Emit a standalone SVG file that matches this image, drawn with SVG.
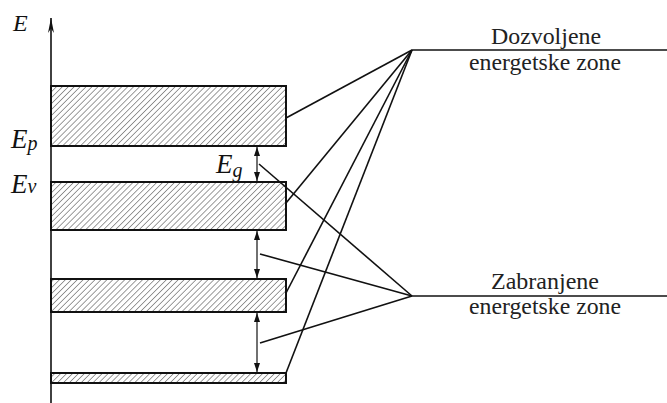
<svg xmlns="http://www.w3.org/2000/svg" width="667" height="403" viewBox="0 0 667 403">
<defs>
<pattern id="hatch" patternUnits="userSpaceOnUse" width="4.2" height="4.2" patternTransform="rotate(45)">
<line x1="0" y1="0" x2="0" y2="4.2" stroke="#222" stroke-width="0.9"/>
</pattern>
<marker id="ah" viewBox="0 0 10 10" refX="10" refY="5" markerWidth="9" markerHeight="6" orient="auto-start-reverse" markerUnits="userSpaceOnUse" preserveAspectRatio="none">
<path d="M0,0 L10,5 L0,10 Z" fill="#111"/>
</marker>
<marker id="axh" viewBox="0 0 10 10" refX="10" refY="5" markerWidth="15" markerHeight="6" orient="auto" markerUnits="userSpaceOnUse" preserveAspectRatio="none">
<path d="M0,0 L10,5 L0,10 L3,5 Z" fill="#111"/>
</marker>
</defs>
<style>
.band{fill:url(#hatch);stroke:#111;stroke-width:2}
.ln{stroke:#111;stroke-width:1.6;fill:none}
.gap{stroke:#111;stroke-width:1.2;fill:none;marker-start:url(#ah);marker-end:url(#ah)}
.lbl{font-size:23px;fill:#222;text-anchor:middle}
.sym{font-style:italic;fill:#111}
</style>
<rect width="667" height="403" fill="#fff"/>
<g id="axis">
<line x1="51" y1="403" x2="51" y2="18" class="ln" stroke-width="1.4" marker-end="url(#axh)"/>
<text x="13" y="31" class="sym" font-family="Liberation Serif, Times New Roman, serif" font-size="24" fill="#555">E</text>
</g>
<g id="band1"><rect x="51" y="86" width="235" height="60" class="band"/></g>
<g id="band2"><rect x="51" y="182" width="235" height="48" class="band"/></g>
<g id="band3"><rect x="51" y="279" width="235" height="33" class="band"/></g>
<g id="band4"><rect x="51" y="373" width="235" height="10" class="band"/></g>
<g id="labels" font-family="Liberation Serif, Times New Roman, serif">
<text x="11" y="148" class="sym" font-size="27">E<tspan font-size="20" dy="2">p</tspan></text>
<text x="11" y="193" class="sym" font-size="27">E<tspan font-size="20" dy="0">v</tspan></text>
<text x="216" y="173" class="sym" font-size="27">E<tspan font-size="20" dy="4">g</tspan></text>
</g>
<g id="gaps">
<line x1="257" y1="147" x2="257" y2="181" class="gap"/>
<line x1="257" y1="231" x2="257" y2="278" class="gap"/>
<line x1="257" y1="313" x2="257" y2="372" class="gap"/>
</g>
<g id="dozvoljene" font-family="Liberation Serif, Times New Roman, serif">
<line x1="412" y1="50" x2="667" y2="50" class="ln"/>
<text x="546" y="44" class="lbl" textLength="110" lengthAdjust="spacingAndGlyphs">Dozvoljene</text>
<text x="545" y="70" class="lbl" textLength="152" lengthAdjust="spacingAndGlyphs">energetske zone</text>
</g>
<g id="zabranjene" font-family="Liberation Serif, Times New Roman, serif">
<line x1="412" y1="296" x2="667" y2="296" class="ln"/>
<text x="545" y="289" class="lbl" textLength="108" lengthAdjust="spacingAndGlyphs">Zabranjene</text>
<text x="545" y="314" class="lbl" textLength="152" lengthAdjust="spacingAndGlyphs">energetske zone</text>
</g>
<g id="connectors">
<line x1="286" y1="118" x2="412" y2="50" class="ln"/>
<line x1="286" y1="203" x2="412" y2="50" class="ln"/>
<line x1="286" y1="293" x2="412" y2="50" class="ln"/>
<line x1="286" y1="373" x2="412" y2="50" class="ln"/>
<line x1="259" y1="164" x2="412" y2="296" class="ln"/>
<line x1="260" y1="254" x2="412" y2="296" class="ln"/>
<line x1="260" y1="343" x2="412" y2="296" class="ln"/>
</g>
</svg>
